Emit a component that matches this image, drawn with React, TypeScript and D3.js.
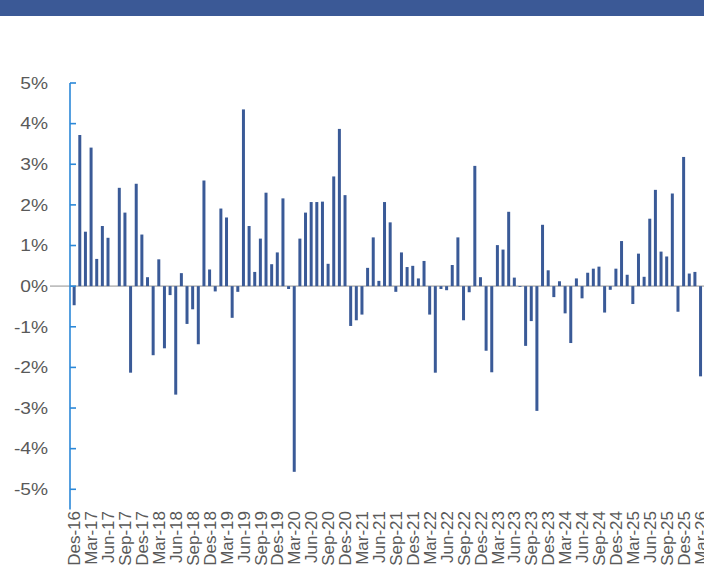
import React from 'react';
import * as d3 from 'd3';

// monthly change, Des-16 .. Mar-26 (%)
const values: number[] = [
  -0.47, 3.72, 1.34, 3.41, 0.67, 1.48, 1.19, 0, 2.42, 1.81, -2.13, 2.52,
  1.27, 0.22, -1.7, 0.66, -1.53, -0.22, -2.67, 0.32, -0.93, -0.57, -1.43, 2.6,
  0.41, -0.13, 1.91, 1.69, -0.78, -0.14, 4.35, 1.48, 0.35, 1.17, 2.3, 0.54,
  0.83, 2.16, -0.07, -4.57, 1.17, 1.81, 2.07, 2.07, 2.08, 0.55, 2.7, 3.87,
  2.24, -0.98, -0.84, -0.7, 0.45, 1.2, 0.13, 2.07, 1.57, -0.14, 0.83, 0.47,
  0.5, 0.19, 0.62, -0.7, -2.13, -0.07, -0.1, 0.52, 1.2, -0.84, -0.15, 2.96,
  0.22, -1.59, -2.12, 1.01, 0.9, 1.83, 0.21, -0.02, -1.47, -0.86, -3.07, 1.51,
  0.39, -0.27, 0.12, -0.67, -1.4, 0.19, -0.3, 0.33, 0.43, 0.48, -0.65, -0.09,
  0.43, 1.11, 0.28, -0.44, 0.8, 0.23, 1.66, 2.37, 0.85, 0.73, 2.28, -0.63,
  3.18, 0.31, 0.35, -2.22,
];

const monthNames = ['Jan', 'Feb', 'Mar', 'Apr', 'Mei', 'Jun', 'Jul', 'Agu', 'Sep', 'Okt', 'Nov', 'Des'];
const months: string[] = values.map((_, i) => {
  const m = (11 + i) % 12;
  const y = 16 + Math.floor((11 + i) / 12);
  return `${monthNames[m]}-${y}`;
});

const yTicks = [-5, -4, -3, -2, -1, 0, 1, 2, 3, 4, 5];

const W = 704;
const H = 567;

const App = () => {
  const x = d3.scaleBand<string>().domain(months).range([70, 704.7]).padding(0.47);
  const y = d3.scaleLinear().domain([-5.5, 5]).range([509.6, 83]);
  const fontFamily = '"Liberation Sans", Arial, sans-serif';

  return (
    <svg width={W} height={H} style={{ position: 'absolute', left: 0, top: 0 }}>
      <rect x={0} y={0} width={W} height={16} fill="#3b5996" />

      {/* zero line */}
      <line x1={50} x2={W} y1={y(0)} y2={y(0)} stroke="#bfbfbf" strokeWidth={1.6} />

      {values.map((v, i) => (
        <rect
          key={months[i]}
          x={x(months[i])}
          width={x.bandwidth()}
          y={y(Math.max(0, v))}
          height={Math.abs(y(v) - y(0))}
          fill="#3a5a97"
        />
      ))}

      {/* y axis */}
      <line x1={70} x2={70} y1={y(5)} y2={y(-5.5)} stroke="#2b88d8" strokeWidth={1.6} />
      {yTicks.map(t => (
        <g key={t}>
          <line x1={70} x2={76} y1={y(t)} y2={y(t)} stroke="#2b88d8" strokeWidth={1.6} />
          <text
            transform={`translate(48,${y(t)}) scale(1.2,1)`}
            dy="0.36em"
            textAnchor="end"
            fontSize={16}
            fontFamily={fontFamily}
            fill="#595959"
          >
            {`${t}%`}
          </text>
        </g>
      ))}

      {/* x labels, every 3rd month */}
      {months.map((m, i) =>
        i % 3 === 0 ? (
          <text
            key={m}
            transform={`translate(${(x(m) as number) + x.bandwidth() / 2},${511}) rotate(-90)`}
            dy="0.36em"
            textAnchor="end"
            fontSize={17}
            fontFamily={fontFamily}
            fill="#595959"
          >
            {m}
          </text>
        ) : null
      )}
    </svg>
  );
};

export default App;
